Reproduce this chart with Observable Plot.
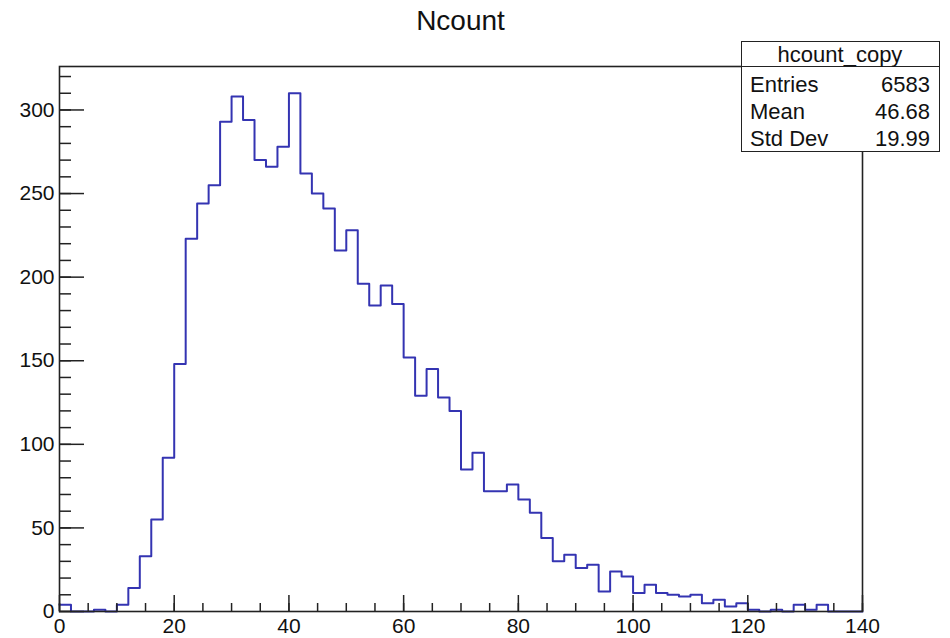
<!DOCTYPE html>
<html>
<head>
<meta charset="utf-8">
<script src="https://cdn.jsdelivr.net/npm/d3@7"></script>
<script src="https://cdn.jsdelivr.net/npm/@observablehq/plot@0.6"></script>
<style>
  html, body { margin: 0; padding: 0; background: #fff; }
  #wrap { position: relative; width: 950px; height: 638px; font-family: "Liberation Sans", Arial, Helvetica, sans-serif; color: #111; }
  #wrap svg { position: absolute; left: 0; top: 0; }
  .t { position: absolute; white-space: nowrap; line-height: 1; }
  #title { font-size: 28px; left: 0; width: 921px; text-align: center; top: 7px; }
  #stats { position: absolute; left: 741px; top: 41px; width: 199px; height: 111px; background: #fff; border: 1.5px solid #222; box-sizing: border-box; z-index: 2; font-size: 22px; }
  #stats .hdr { position: absolute; left: 0; top: 0; width: 100%; height: 25px; border-bottom: 1.5px solid #222; box-sizing: border-box; }
</style>
</head>
<body>
<div id="wrap"></div>
<script>
// ---- data ----
const title = "Ncount";
const histName = "hcount_copy";
const statLabels = ["Entries", "Mean", "Std Dev"];
const statValues = ["6583", "46.68", "19.99"];
const binLow = 0;       // first bin lower edge
const binWidth = 2;     // bin width
const counts = [
  4, 0, 0, 1, 0, 4, 14, 33, 55, 92,
  148, 223, 244, 255, 293, 308, 294, 270, 266, 278,
  310, 262, 250, 241, 216, 228, 196, 183, 195, 184,
  152, 129, 145, 128, 120, 85, 95, 72, 72, 76,
  67, 59, 44, 30, 34, 26, 28, 12, 24, 21,
  11, 16, 11, 10, 9, 10, 5, 7, 3, 5,
  1, 0, 1, 0, 4, 1, 4, 0, 0, 0
];
const xDomain = [0, 140];
const yDomain = [0, 326];
const xMajorTicks = [0, 20, 40, 60, 80, 100, 120, 140];
const xMinorTicks = d3.range(0, 141, 5);
const yMajorTicks = [0, 50, 100, 150, 200, 250, 300];
const yMinorTicks = d3.range(0, 321, 10);

// step outline points: bin lower edges plus the final upper edge
const stepData = counts.map((c, i) => ({x: binLow + i * binWidth, y: c}));
stepData.push({x: binLow + counts.length * binWidth, y: counts[counts.length - 1]});

const W = 950, H = 638;
const mL = 59, mR = 88, mT = 66, mB = 27;
const plotW = W - mL - mR, plotH = H - mT - mB;
const ink = "#222";
const blue = "#3434b2";

const chart = Plot.plot({
  width: W, height: H,
  marginLeft: mL, marginRight: mR, marginTop: mT, marginBottom: mB,
  style: {fontFamily: "'Liberation Sans', Arial, Helvetica, sans-serif", background: "transparent", color: "#111", overflow: "visible"},
  x: {domain: xDomain},
  y: {domain: yDomain},
  marks: [
    Plot.line(stepData, {x: "x", y: "y", curve: "step-after", stroke: blue, strokeWidth: 2}),
    Plot.tickY(yMajorTicks, {y: d => d, stroke: ink, strokeWidth: 1.5, insetRight: plotW - 25}),
    Plot.tickY(yMinorTicks, {y: d => d, stroke: ink, strokeWidth: 1.5, insetRight: plotW - 12}),
    Plot.tickX(xMajorTicks, {x: d => d, stroke: ink, strokeWidth: 1.5, insetTop: plotH - 16}),
    Plot.tickX(xMinorTicks, {x: d => d, stroke: ink, strokeWidth: 1.5, insetTop: plotH - 8}),
    Plot.frame({stroke: ink, strokeWidth: 1.6}),
    Plot.axisY({ticks: yMajorTicks, tickSize: 0, tickPadding: 5, fontSize: 21, label: null}),
    Plot.axisX({ticks: xMajorTicks, tickSize: 0, tickPadding: 7, fontSize: 21, label: null})
  ]
});

const wrap = document.getElementById("wrap");
wrap.appendChild(chart);

const t = document.createElement("div");
t.id = "title"; t.className = "t"; t.textContent = title;
wrap.appendChild(t);

const stats = document.createElement("div");
stats.id = "stats";
const hdr = document.createElement("div");
hdr.className = "hdr";
stats.appendChild(hdr);
const h = document.createElement("div");
h.className = "t"; h.textContent = histName;
h.style.left = "0"; h.style.width = "196px"; h.style.textAlign = "center"; h.style.top = "2px";
stats.appendChild(h);
const rowTops = [32, 59, 86];
statLabels.forEach((lab, i) => {
  const l = document.createElement("div");
  l.className = "t"; l.textContent = lab;
  l.style.left = "8px"; l.style.top = rowTops[i] + "px";
  stats.appendChild(l);
  const v = document.createElement("div");
  v.className = "t"; v.textContent = statValues[i];
  v.style.right = "9px"; v.style.top = rowTops[i] + "px";
  stats.appendChild(v);
});
wrap.appendChild(stats);
</script>
</body>
</html>
